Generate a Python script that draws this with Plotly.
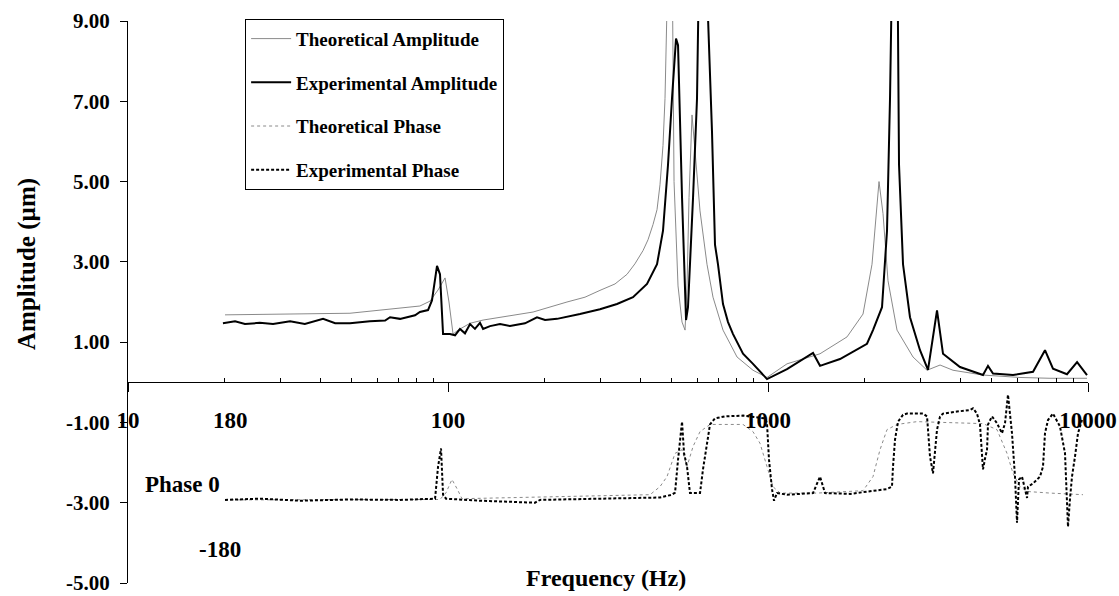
import plotly.graph_objects as go

# ---------------- data ----------------
theo_amp_f = [20.1, 49.4, 81.7, 87.8, 93.1, 97.9, 100.7, 103.7, 107.5, 117.2, 128.7,
              184.4, 235.4, 268.0, 298.5, 332.6, 362.6, 383.7, 406.8, 421.7, 437.2, 450.0,
              459.7, 469.8, 476.6, 487.0, 497.7,
              508.6, 523.4, 538.7, 550.5, 558.4, 566.5, 578.9, 591.5, 613.1, 644.7,
              673.2, 723.4, 800.3, 897.6, 992.8, 1146.7, 1453.9, 1765.6, 1981.2,
              2113.5, 2222.9, 2288.0, 2371.4, 2530.5, 2839.3, 3140.2, 3448.8, 3785.6,
              4697.5, 6130.6, 7607.0, 9928.0]
theo_amp = [1.68, 1.72, 1.90, 2.02, 2.30, 2.60, 2.00, 1.20, 1.30, 1.47, 1.55,
            1.75, 2.00, 2.12, 2.29, 2.45, 2.69, 2.95, 3.28, 3.55, 3.93, 4.30,
            4.92, 5.90, 7.07, 12.0, 14.0,
            5.00, 2.40, 1.50, 1.30, 2.40, 4.60, 6.66, 5.80, 4.27, 2.94,
            2.12, 1.30, 0.63, 0.30, 0.12, 0.46, 0.71, 1.13, 1.70,
            2.94, 5.00, 4.20, 2.53, 1.30, 0.63, 0.30, 0.43, 0.30,
            0.18, 0.12, 0.10, 0.10]

exp_amp_f = [19.8, 21.6, 23.2, 25.8, 28.4, 32.1, 35.7, 40.7, 44.4, 49.4, 57.0, 63.6,
             65.9, 70.8, 78.9, 81.7, 86.6, 89.1, 92.4, 94.4, 96.5, 101.4, 105.2, 109.0,
             113.0, 117.2, 121.4, 125.9, 128.7, 135.3, 145.4, 156.2, 174.0, 189.7, 201.1,
             219.1, 258.5, 298.5, 337.4, 378.6, 418.7, 450.0, 469.8, 487.0, 501.2, 515.9,
             523.4, 538.7, 554.5, 562.3, 583.1, 600.0, 613.1, 631.0, 649.4, 668.3, 682.9,
             697.8, 723.4, 750.0, 777.6, 835.5, 897.6, 992.8, 1146.7, 1382.6, 1453.9, 1678.8,
             2038.6, 2128.8, 2271.4, 2354.4, 2406.0, 2458.5, 2494.1, 2530.5, 2567.1,
             2642.0, 2778.1, 2985.4, 3162.3, 3374.1, 3523.1, 3981.1, 4498.5, 4697.5,
             4869.7, 5048.0, 5830.6, 6734.0, 7338.3, 7773.9, 8597.0, 9244.1, 9928.0]
exp_amp = [1.47, 1.52, 1.45, 1.48, 1.45, 1.52, 1.45, 1.58, 1.47, 1.47, 1.52, 1.54,
           1.62, 1.58, 1.67, 1.75, 1.80, 2.04, 2.90, 2.69, 1.20, 1.20, 1.17, 1.33,
           1.22, 1.45, 1.33, 1.48, 1.33, 1.40, 1.45, 1.40, 1.47, 1.62, 1.55,
           1.58, 1.70, 1.82, 1.95, 2.12, 2.45, 2.94, 3.78, 5.42, 7.07, 8.56,
           8.40, 4.60, 1.55, 1.87, 4.60, 7.07, 12.0, 15.0, 9.10, 6.25, 3.43,
           2.94, 1.95, 1.50, 1.20, 0.71, 0.46, 0.08, 0.33, 0.73, 0.41, 0.58,
           0.96, 1.30, 1.87, 3.77, 7.07, 12.0, 15.0, 12.0, 5.42,
           2.94, 1.62, 0.80, 0.31, 1.79, 0.71, 0.38, 0.22, 0.18,
           0.41, 0.22, 0.18, 0.26, 0.80, 0.34, 0.20, 0.50, 0.18]

theo_ph_f = [20.1, 94.4, 98.6, 102.9, 106.7, 110.6, 427.9, 459.7, 483.5, 512.3, 538.7,
             558.4, 583.1, 613.1, 658.8, 835.5, 897.6, 944.1, 992.8, 1036.6, 1090.2,
             1422.8, 1981.2, 2128.8, 2238.7, 2354.4, 2530.5, 2922.1, 4697.5, 4939.5,
             5195.2, 5582.9, 5830.6, 6130.6, 6449.4, 7607.0, 9646.0]
theo_ph = [-2.93, -2.92, -2.75, -2.42, -2.65, -2.90, -2.80, -2.60, -2.35, -1.77, -1.68,
           -2.10, -1.60, -1.23, -1.05, -1.05, -1.23, -1.52, -2.10, -2.60, -2.76,
           -2.76, -2.70, -2.35, -1.68, -1.18, -1.05, -0.98, -1.03, -1.10,
           -1.18, -1.77, -2.27, -2.60, -2.72, -2.76, -2.80]

exp_ph_f = [20.1, 25.8, 34.5, 49.4, 70.8, 91.1, 93.1, 95.1, 96.5, 98.6, 125.9, 187.1,
            193.9, 298.5, 459.7, 501.2, 512.3, 523.4, 538.7, 546.6, 558.4, 570.5, 613.1,
            626.4, 644.7, 658.8, 682.9, 734.0, 835.5, 978.7, 992.8, 1007.2, 1029.2,
            1044.2, 1067.0, 1146.7, 1382.6, 1453.9, 1507.1, 1804.2, 2354.4, 2440.5,
            2458.5, 2494.1, 2548.8, 2642.0, 2718.8, 3051.1, 3140.2, 3162.3, 3208.2,
            3278.1, 3325.6, 3374.1, 3448.8, 3523.1, 3896.3, 4278.8, 4372.2, 4498.5,
            4596.8, 4663.3, 4697.5, 4766.7, 4835.8, 4869.7, 5011.9, 5195.2, 5385.6,
            5503.6, 5623.4, 5787.4, 5914.0, 6000.0, 6086.7, 6219.4, 6449.4, 6493.8,
            6734.0, 7079.5, 7234.0, 7338.3, 7498.9, 7773.9, 8173.2, 8475.1, 8597.0,
            8659.6, 8785.0, 8912.5, 9107.1, 9306.5, 9577.4]
exp_ph = [-2.93, -2.90, -2.95, -2.92, -2.93, -2.90, -2.10, -1.65, -2.80, -2.90, -2.95, -3.00,
          -2.93, -2.90, -2.87, -2.80, -2.75, -1.93, -0.98, -1.77, -2.10, -2.76, -2.76,
          -2.17, -1.52, -1.05, -0.90, -0.85, -0.83, -0.90, -1.02, -1.93, -2.66,
          -2.95, -2.76, -2.80, -2.76, -2.35, -2.76, -2.78, -2.66, -2.60,
          -2.10, -1.43, -0.98, -0.81, -0.78, -0.78, -0.85, -1.27, -1.85,
          -2.27, -1.77, -1.18, -0.85, -0.78, -0.73, -0.69, -0.65, -0.78,
          -1.05, -1.68, -2.17, -1.90, -1.68, -1.05, -0.85, -1.02, -1.27,
          -1.02, -0.31, -1.27, -2.35, -3.50, -2.42, -2.35, -2.88, -2.60,
          -2.52, -2.35, -2.10, -1.27, -0.94, -0.78, -1.10, -1.77, -2.76,
          -3.60, -2.90, -2.35, -1.85, -1.27, -0.94]

x_tick_vals = [10, 100, 1000, 10000]
x_tick_text = ["10", "100", "1000", "10000"]
x_minor_vals = [m * d for d in (10, 100, 1000) for m in range(2, 10)]
y_tick_vals = [-5, -3, -1, 1, 3, 5, 7, 9]
y_tick_text = [f"{v:.2f}" for v in y_tick_vals]

SERIF = "Liberation Serif"

fig = go.Figure()
fig.add_trace(go.Scatter(x=theo_amp_f, y=theo_amp, mode="lines", name="Theoretical Amplitude",
                         legendgroup="a", line=dict(color="#8a8a8a", width=1)))
fig.add_trace(go.Scatter(x=exp_amp_f, y=exp_amp, mode="lines", name="Experimental Amplitude",
                         legendgroup="b", line=dict(color="black", width=2)))
fig.add_trace(go.Scatter(x=theo_ph_f, y=theo_ph, mode="lines", name="Theoretical Phase",
                         legendgroup="c", line=dict(color="#8a8a8a", width=1, dash="dot")))
fig.add_trace(go.Scatter(x=exp_ph_f, y=exp_ph, mode="lines", name="Experimental Phase",
                         legendgroup="d", line=dict(color="black", width=2, dash="3px,2px")))

fig.update_layout(
    width=1119, height=596,
    margin=dict(l=128, r=31, t=21, b=13, autoexpand=False),
    paper_bgcolor="white", plot_bgcolor="white",
    font=dict(family=SERIF, color="black", size=18),
    showlegend=True,
    legend=dict(x=0.122, y=1.004, xanchor="left", yanchor="top",
                bordercolor="black", borderwidth=1, bgcolor="white",
                font=dict(family=SERIF, size=19, color="black", weight="bold"),
                tracegroupgap=16, itemwidth=40),
    xaxis=dict(type="log", range=[1, 4], anchor="free", position=5 / 14,
               automargin=False,
               showline=True, linecolor="black", linewidth=1,
               showgrid=False, zeroline=False,
               tickmode="array", tickvals=x_tick_vals, ticktext=x_tick_text,
               ticks="outside", ticklen=9, tickcolor="black",
               ticklabelstandoff=8, ticklabeloverflow="allow",
               tickfont=dict(family=SERIF, size=23, color="black", weight="bold"),
               minor=dict(tickvals=x_minor_vals, ticks="inside", ticklen=4, tickcolor="black")),
    yaxis=dict(range=[-5, 9], automargin=False,
               showline=True, linecolor="black", linewidth=1,
               showgrid=False, zeroline=False,
               tickmode="array", tickvals=y_tick_vals, ticktext=y_tick_text,
               ticks="outside", ticklen=7, tickcolor="black",
               ticklabelstandoff=6, ticklabeloverflow="allow",
               tickfont=dict(family=SERIF, size=21, color="black", weight="bold")),
)

ann_font = dict(family=SERIF, size=23, color="black", weight="bold")
for txt, ax, ay in [("180", 0.10625, 0.2885), ("Phase 0", 0.05625, 0.1752), ("-180", 0.0958, 0.0602)]:
    fig.add_annotation(text=txt, x=ax, y=ay, xref="paper", yref="paper",
                       xanchor="center", yanchor="middle", showarrow=False, font=ann_font)
fig.add_annotation(text="Frequency (Hz)", x=0.498, y=0.009, xref="paper", yref="paper",
                   xanchor="center", yanchor="middle", showarrow=False,
                   font=dict(family=SERIF, size=24, color="black", weight="bold"))
fig.add_annotation(text="Amplitude (\u00b5m)", x=-0.105, y=0.568, xref="paper", yref="paper",
                   xanchor="center", yanchor="middle",
                   textangle=-90, showarrow=False,
                   font=dict(family=SERIF, size=25, color="black", weight="bold"))

fig.write_html("out.html")
